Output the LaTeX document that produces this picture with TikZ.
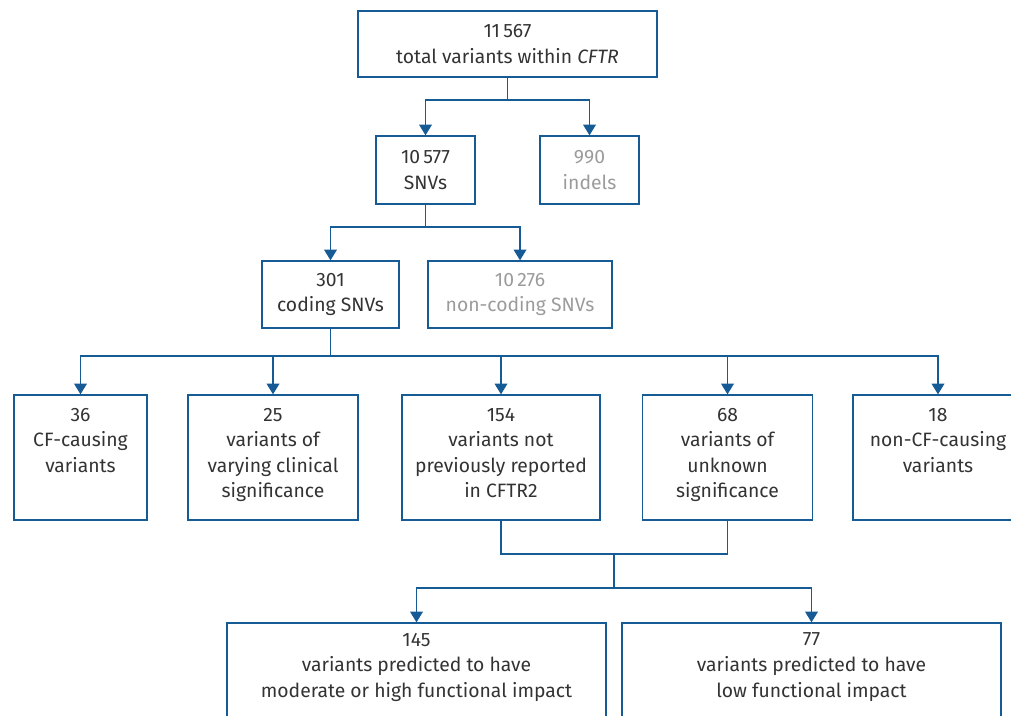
\documentclass[tikz,border=0pt]{standalone}
\usepackage{fontspec}
\setmainfont{Fira Sans}
\usetikzlibrary{arrows.meta}
\definecolor{cfblue}{RGB}{22,90,150}
\definecolor{cfdark}{RGB}{51,51,51}
\definecolor{cfgrey}{RGB}{155,155,155}
\newlength{\px}
\setlength{\px}{0.75pt}

\begin{document}
\begin{tikzpicture}[
  x=0.75pt, y=-0.75pt,
  every node/.style={font=\fontsize{14.5pt}{19.2pt}\selectfont, text=cfdark},
  box/.style={draw=cfblue, line width=1pt, inner sep=0pt, align=center},
  cell/.style n args={3}{draw=cfblue, line width=1pt, inner sep=0pt,
    execute at begin node={\begin{minipage}[c][#2\px][t]{#1\px}\centering\vspace*{#3\px}},
    execute at end node={\end{minipage}}},
  link/.style={draw=cfblue, line width=1pt, -{Triangle[width=9.5pt, length=8pt]}},
  joint/.style={draw=cfblue, line width=1pt}
]
  \useasboundingbox (0,0) rectangle (1011,715);
  \clip (0,0) rectangle (1011,715);

  % --- Upper levels ---
  \node[box, minimum width=299\px, minimum height=66\px] (total) at (507.5,44)
    {11\,567\\total variants within \textit{CFTR}};
  \node[box, minimum width=99\px, minimum height=68\px] (snv) at (425.5,170)
    {10\,577\\SNVs};
  \node[box, minimum width=99\px, minimum height=68\px, text=cfgrey] (indel) at (589.5,170)
    {990\\indels};
  \node[box, minimum width=137\px, minimum height=67\px] (coding) at (330.5,294.5)
    {301\\coding SNVs};
  \node[box, minimum width=184\px, minimum height=67\px, text=cfgrey] (noncoding) at (520,294.5)
    {10\,276\\non-coding SNVs};

  % --- Classes of coding SNVs ---
  \node[cell={133}{125}{13}] (cfcausing) at (80.5,457.5)
    {36\\CF-causing\\variants};
  \node[cell={170}{125}{13}] (varying) at (273,457.5)
    {25\\variants of\\varying clinical\\significance};
  \node[cell={198}{125}{13}] (novel) at (501,457.5)
    {154\\variants not\\previously reported\\in CFTR2};
  \node[cell={170}{125}{13}] (unknown) at (727.5,457.5)
    {68\\variants of\\unknown\\significance};
  \node[cell={170}{125}{13}] (noncf) at (938,457.5)
    {18\\non-CF-causing\\variants};

  % --- Predicted impact ---
  \node[cell={379}{150}{10}] (high) at (416.5,698)
    {145\\variants predicted to have\\moderate or high functional impact};
  \node[cell={379}{150}{10}] (low) at (811.5,698)
    {77\\variants predicted to have\\low functional impact};

  % --- Split points ---
  \coordinate (s1) at (507.5,100);
  \coordinate (s2) at (425.5,227);
  \coordinate (s3) at (330.5,356);
  \coordinate (j1) at (614,554);
  \coordinate (s4) at (614,588);

  % --- Connectors ---
  \draw[link] (total.south) -- (s1) -| (snv.north);
  \draw[link] (s1) -| (indel.north);
  \draw[link] (snv.south) -- (s2) -| (coding.north);
  \draw[link] (s2) -| (noncoding.north);
  \draw[link] (coding.south) -- (s3) -| (cfcausing.north);
  \foreach \dest in {varying, novel, unknown, noncf}
    \draw[link] (s3) -| (\dest.north);
  \draw[joint] (novel.south) |- (j1) -| (unknown.south);
  \draw[link] (j1) -- (s4) -| (high.north);
  \draw[link] (s4) -| (low.north);

\end{tikzpicture}
\end{document}
